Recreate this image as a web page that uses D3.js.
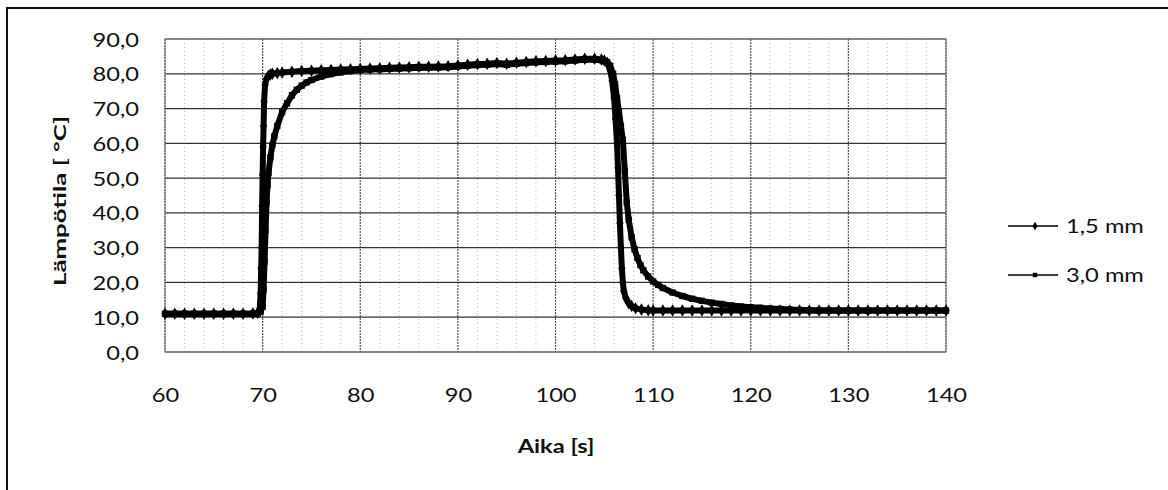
<!DOCTYPE html>
<html><head><meta charset="utf-8">
<script src="https://cdn.jsdelivr.net/npm/d3@7"></script>
<style>
html,body{margin:0;padding:0;background:#fff;}
svg{display:block;}
text{font-family:Lato,"Open Sans",sans-serif;fill:#111;}
</style></head>
<body>
<svg id="chart" width="1168" height="490"></svg>
<script>
// ---- data ----
const seriesNames = ["1,5 mm", "3,0 mm"];
const xTicks = [60, 70, 80, 90, 100, 110, 120, 130, 140];
const yTicks = [0, 10, 20, 30, 40, 50, 60, 70, 80, 90];

const time15 = [60,61,62,63,64,65,66,67,68,69,69.5,69.7,69.8,69.85,69.9,69.95,70,70.05,70.1,70.15,70.25,70.4,70.6,70.8,71,71.5,72,73,74,75,76,77,78,79,80,81,82,83,84,85,86,87,88,89,90,91,92,93,94,95,96,97,98,99,100,101,102,103,104,104.7,105,105.3,105.6,105.8,106,106.15,106.3,106.4,106.5,106.6,106.7,106.8,106.9,107,107.2,107.5,107.8,108.2,108.8,109.5,110,111,112,113,114,115,116,117,118,119,120,121,122,123,124,125,126,127,128,129,130,131,132,133,134,135,136,137,138,139,140];
const temp15 = [11.0,11.0,11.0,11.0,11.0,11.0,11.0,11.0,11.0,11.1,11.3,12.3,17,24,30,42,51,59,65,72,76.8,78.6,79.4,79.8,80.0,80.2,80.4,80.6,80.8,80.9,81.0,81.1,81.2,81.3,81.4,81.5,81.6,81.7,81.8,81.9,82.0,82.0,82.1,82.2,82.4,82.6,82.8,82.9,83.1,82.9,83.2,83.4,83.6,83.7,83.8,83.9,84.1,84.3,84.3,84.1,83.8,83.2,81,78,73,67,60,53,45,37,30,24,20,17.5,15.5,14.0,13.2,12.6,12.2,12.0,11.9,11.9,11.9,11.9,11.9,11.9,11.9,11.9,11.9,11.9,11.9,11.9,11.9,11.9,11.9,11.9,11.9,11.9,11.9,11.9,11.9,11.9,11.9,11.9,11.9,11.9,11.9,11.9,11.9,11.9,11.9];

const time30 = [60,61,62,63,64,65,66,67,68,69,69.5,69.8,70,70.1,70.2,70.3,70.4,70.5,70.6,70.8,71,71.2,71.5,72,72.5,73,73.5,74,74.5,75,76,77,78,79,80,81,82,83,84,85,86,87,88,89,90,91,92,93,94,95,96,97,98,99,100,101,102,103,104,104.7,105,105.3,105.6,105.9,106.1,106.3,106.5,106.7,106.9,107.1,107.3,107.5,107.8,108.1,108.4,108.7,109,109.5,110,110.5,111,112,113,114,115,116,117,118,119,120,121,122,123,124,125,126,127,128,129,130,131,132,133,134,135,136,137,138,139,140];
const temp30 = [11.0,11.0,11.0,11.0,11.0,11.0,11.0,11.0,11.0,11.0,11.1,11.6,13,18,26,35,43,48,51.5,56,59.5,62,65,69,71.5,73.8,75.4,76.6,77.5,78.2,79.2,79.9,80.4,80.8,81.1,81.2,81.3,81.4,81.5,81.6,81.7,81.7,81.8,81.9,82.1,82.3,82.5,82.6,82.8,82.6,82.9,83.1,83.3,83.4,83.5,83.6,83.8,84.0,84.0,83.9,83.6,83.3,82.3,80,77,73,69,65,61,52,43,38,33,29.5,27,25,23.5,21.7,20.3,19.3,18.4,17.1,16.1,15.3,14.7,14.2,13.8,13.4,13.1,12.9,12.7,12.5,12.4,12.2,12.1,12.0,11.9,11.9,11.9,11.9,11.9,11.9,11.9,11.9,11.9,11.9,11.9,11.9,11.9,11.9,11.9];

// ---- drawing ----
const svg = d3.select("#chart");
const SX = 1.28; // horizontal stretch of the scanned text

const x = d3.scaleLinear().domain([60, 140]).range([165, 946]);
const y = d3.scaleLinear().domain([0, 90]).range([352, 39]);
const fmtY = v => d3.format(".1f")(v).replace(".", ",");

// outer frame
svg.append("rect").attr("x", 7).attr("y", 8).attr("width", 1200).attr("height", 600)
  .attr("fill", "none").attr("stroke", "#111").attr("stroke-width", 2);

// minor vertical gridlines (every 2 s)
const xMinor = d3.range(62, 140, 2).filter(v => v % 10 !== 0);
svg.append("g").selectAll("line").data(xMinor).join("line")
  .attr("x1", d => x(d)).attr("x2", d => x(d)).attr("y1", y(90)).attr("y2", y(0))
  .attr("stroke", "#bbb").attr("stroke-width", 1).attr("stroke-dasharray", "1,3");

// major vertical gridlines
svg.append("g").selectAll("line").data(xTicks).join("line")
  .attr("x1", d => x(d)).attr("x2", d => x(d)).attr("y1", y(90)).attr("y2", y(0))
  .attr("stroke", "#555").attr("stroke-width", 1.2).attr("stroke-dasharray", "2,1");

// major horizontal gridlines
svg.append("g").selectAll("line").data(yTicks).join("line")
  .attr("x1", x(60)).attr("x2", x(140)).attr("y1", d => y(d)).attr("y2", d => y(d))
  .attr("stroke", "#333").attr("stroke-width", 1.2);

// plot frame
svg.append("rect").attr("x", x(60)).attr("y", y(90)).attr("width", x(140) - x(60)).attr("height", y(0) - y(90))
  .attr("fill", "none").attr("stroke", "#777").attr("stroke-width", 1);

// axes (labels only)
const yAxis = svg.append("g").attr("transform", `translate(${x(60)},0)`)
  .call(d3.axisLeft(y).tickValues(yTicks).tickFormat(fmtY).tickSize(0).tickPadding(0));
yAxis.select(".domain").remove();
yAxis.selectAll("text").attr("x", 0).attr("dy", "0.38em")
  .attr("transform", `translate(-26,0) scale(${SX},1)`)
  .style("font-size", "18.5px").style("font-family", "Lato, sans-serif").attr("fill", "#111");

const xAxis = svg.append("g").attr("transform", `translate(0,${y(0)})`)
  .call(d3.axisBottom(x).tickValues(xTicks).tickFormat(d3.format("d")).tickSize(0).tickPadding(0));
xAxis.select(".domain").remove();
xAxis.selectAll("text").attr("y", 0).attr("dy", 0)
  .attr("transform", `translate(0,50) scale(${SX},1)`)
  .style("font-size", "18.5px").style("font-family", "Lato, sans-serif").attr("fill", "#111");

// axis titles
svg.append("g").attr("transform", `translate(556,453) scale(${SX},1)`)
  .append("text").attr("text-anchor", "middle").style("font-size", "18.5px").style("font-weight", "bold")
  .text("Aika [s]");
svg.append("g").attr("transform", `translate(66,201) rotate(-90)`)
  .append("text").attr("text-anchor", "middle").style("font-size", "17px").style("font-weight", "bold")
  .attr("textLength", 170).attr("lengthAdjust", "spacingAndGlyphs")
  .text("Lämpötila [ °C]");

// series
const series = [
  { name: seriesNames[0], t: time15, v: temp15, shape: d3.symbolDiamond, size: 45 },
  { name: seriesNames[1], t: time30, v: temp30, shape: d3.symbolSquare, size: 40 }
];
const line = d3.line().x(d => x(d[0])).y(d => y(d[1]));
series.forEach(s => {
  const pts = s.t.map((t, i) => [t, s.v[i]]);
  svg.append("path").datum(pts).attr("d", line)
    .attr("fill", "none").attr("stroke", "#000").attr("stroke-width", 6).attr("stroke-linejoin", "round");
  svg.append("g").selectAll("path").data(pts).join("path")
    .attr("transform", d => `translate(${x(d[0])},${y(d[1])})`)
    .attr("d", d3.symbol().type(s.shape).size(s.size)).attr("fill", "#000");
});

// legend
const legY = [226, 275];
series.forEach((s, i) => {
  const g = svg.append("g").attr("transform", `translate(0,${legY[i]})`);
  g.append("line").attr("x1", 1008).attr("x2", 1058).attr("y1", 0).attr("y2", 0)
    .attr("stroke", "#000").attr("stroke-width", 1.6);
  g.append("path").attr("transform", "translate(1035,0)")
    .attr("d", d3.symbol().type(s.shape).size(i === 0 ? 22 : 20)).attr("fill", "#000");
  g.append("g").attr("transform", `translate(1066,7) scale(${SX},1)`)
    .append("text").style("font-size", "18.5px").text(s.name);
});
</script>
</body></html>
